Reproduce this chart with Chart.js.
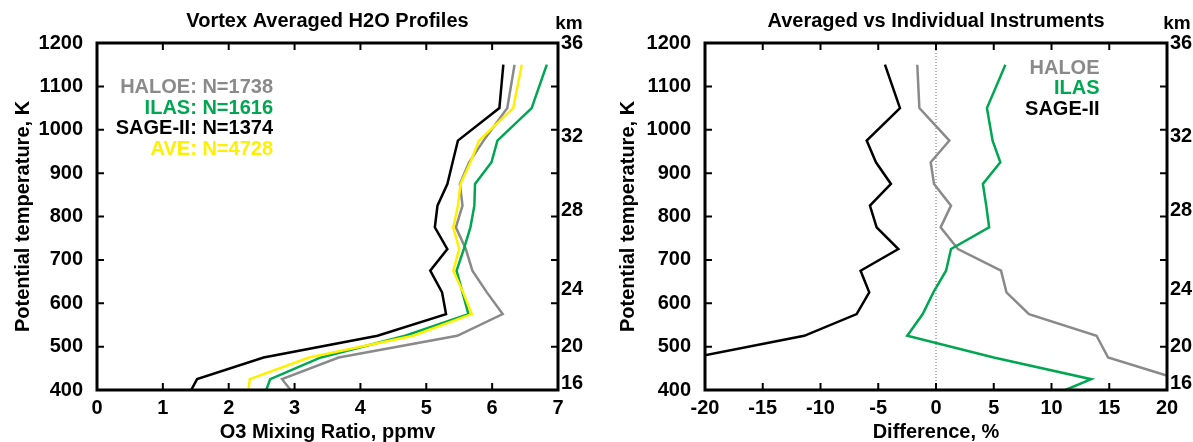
<!DOCTYPE html>
<html>
<head>
<meta charset="utf-8">
<script src="https://cdn.jsdelivr.net/npm/chart.js@4.4.1/dist/chart.umd.min.js"></script>
<style>
	body { margin: 0; background: #fff; overflow: hidden; }
	.panel { position: absolute; top: 0; height: 442px; }
	#left { left: 0; width: 600px; }
	#right { left: 600px; width: 593px; }
</style>
</head>
<body>
<div class="panel" id="left"><canvas id="profiles"></canvas></div>
<div class="panel" id="right"><canvas id="differences"></canvas></div>
<script>
'use strict'

// potential temperature levels, K
const theta = [400, 425, 475, 525, 575, 625, 675, 725, 775, 825, 875, 925, 975, 1050, 1150];

// mixing ratio, ppmv
const haloe = [2.94, 2.81, 3.67, 5.47, 6.16, 5.92, 5.70, 5.60, 5.45, 5.55, 5.51, 5.65, 5.87, 6.23, 6.34];
const ilas = [2.57, 2.63, 3.40, 4.68, 5.64, 5.55, 5.46, 5.57, 5.67, 5.73, 5.74, 5.99, 6.08, 6.60, 6.83];
const sage = [1.43, 1.52, 2.53, 4.26, 5.30, 5.24, 5.06, 5.32, 5.13, 5.17, 5.32, 5.40, 5.48, 6.11, 6.17];
const ave = [2.30, 2.32, 3.22, 4.80, 5.69, 5.56, 5.41, 5.50, 5.41, 5.48, 5.52, 5.67, 5.80, 6.32, 6.45];

// difference from average, %
const haloeDiff = [27.8, 21.0, 14.9, 13.9, 8.05, 6.1, 5.63, 1.9, 0.4, 1.3, -0.17, -0.46, 1.16, -1.44, -1.62];
const ilasDiff = [11.2, 13.44, 5.0, -2.49, -1.15, -0.23, 0.87, 1.3, 4.6, 4.35, 4.06, 5.57, 4.9, 4.41, 6.01];
const sageDiff = [-38, -34, -20.95, -11.41, -6.87, -5.78, -6.53, -3.26, -5.14, -5.72, -3.9, -5.2, -6.0, -3.12, -4.42];
const zeroLine = [0, 0];
const zeroTheta = [400, 1200];

// altitude labels on the right axis
const kmLabels = ['16', '20', '24', '28', '32', '36'];
const kmTheta = [415, 500, 632, 813, 985, 1200];

const legendLeft = ['HALOE: N=1738', 'ILAS: N=1616', 'SAGE-II: N=1374', 'AVE: N=4728'];
const legendRight = ['HALOE', 'ILAS', 'SAGE-II'];

const colors = {
	haloe: '#8a8a8a',
	ilas: '#00a651',
	sage: '#000000',
	ave: '#fff000',
	zero: '#666666',
};

const fontFamily = '"Liberation Sans", Arial, Helvetica, sans-serif';

function pts(xs, ys) {
	return xs.map((v, i) => ({ x: v, y: ys[i] }))
}

function line(label, xs, ys, color) {
	return {
		label: label,
		data: pts(xs, ys),
		showLine: true,
		borderColor: color,
		backgroundColor: color,
		borderWidth: 2.5,
		pointRadius: 0,
		tension: 0,
	}
}

// frame, inward ticks, title, legend text and km label
const framePlugin = {
	id: 'frame',
	afterDraw(chart, args, opts) {
		const ctx = chart.ctx;
		const a = chart.chartArea;
		const xs = chart.scales.x;
		const ys = chart.scales.y;
		ctx.save();
		ctx.strokeStyle = '#000';
		ctx.lineWidth = 2;
		ctx.beginPath();
		xs.ticks.forEach((t) => {
			const p = xs.getPixelForValue(t.value);
			if (p <= a.left + 2 || p >= a.right - 2) return;
			ctx.moveTo(p, a.bottom); ctx.lineTo(p, a.bottom - 7);
			ctx.moveTo(p, a.top); ctx.lineTo(p, a.top + 7);
		});
		ys.ticks.forEach((t) => {
			const p = ys.getPixelForValue(t.value);
			if (p <= a.top + 2 || p >= a.bottom - 2) return;
			ctx.moveTo(a.left, p); ctx.lineTo(a.left + 7, p);
			ctx.moveTo(a.right, p); ctx.lineTo(a.right - 7, p);
		});
		ctx.stroke();
		ctx.lineWidth = 3;
		ctx.strokeRect(a.left, a.top, a.right - a.left, a.bottom - a.top);

		ctx.fillStyle = '#000';
		ctx.textBaseline = 'middle';
		ctx.textAlign = 'center';
		ctx.font = 'bold 20px ' + fontFamily;
		ctx.fillText(opts.title, (a.left + a.right) / 2, 21);
		ctx.font = 'bold 19px ' + fontFamily;
		ctx.fillText('km', a.right + opts.kmOffset, 24);

		ctx.textAlign = 'right';
		ctx.font = 'bold 20px ' + fontFamily;
		opts.legend.forEach((txt, i) => {
			ctx.fillStyle = opts.legendColors[i];
			ctx.fillText(txt, opts.legendX, opts.legendY + i * 20.7);
		});
		ctx.restore();
	}
};

function scales(xMin, xMax, xStep, xTitle, leftW, rightW, yTitlePad) {
	const tickFont = { family: fontFamily, size: 20, weight: 'bold' };
	return {
		x: {
			type: 'linear',
			position: 'bottom',
			min: xMin,
			max: xMax,
			ticks: { stepSize: xStep, color: '#000', font: tickFont, padding: 6, maxRotation: 0, callback: (v) => String(v) },
			grid: { display: false, drawTicks: false },
			border: { display: false },
			title: { display: true, text: xTitle, color: '#000', font: { family: fontFamily, size: 20, weight: 'bold', lineHeight: 1 }, padding: { top: 0, bottom: 0 } },
			afterFit: (s) => { s.height = 52 },
		},
		y: {
			type: 'linear',
			position: 'left',
			min: 400,
			max: 1200,
			ticks: { stepSize: 100, color: '#000', font: tickFont, padding: 14, callback: (v) => String(v) },
			grid: { display: false, drawTicks: false },
			border: { display: false },
			title: { display: true, text: 'Potential temperature, K', color: '#000', font: { family: fontFamily, size: 20, weight: 'bold', lineHeight: 1 }, padding: { top: yTitlePad, bottom: 0 } },
			afterFit: (s) => { s.width = leftW },
		},
		y2: {
			type: 'linear',
			position: 'right',
			min: 400,
			max: 1200,
			afterBuildTicks: (s) => { s.ticks = kmTheta.map((v) => ({ value: v })) },
			ticks: { color: '#000', font: tickFont, padding: 3, callback: (v, i) => kmLabels[i] },
			grid: { display: false, drawTicks: false },
			border: { display: false },
			afterFit: (s) => { s.width = rightW },
		},
	}
}

function baseOptions() {
	return {
		responsive: true,
		maintainAspectRatio: false,
		animation: false,
		layout: { padding: { top: 43, left: 0, right: 0, bottom: 0 } },
		plugins: {
			legend: { display: false },
			tooltip: { enabled: false },
			title: { display: false },
		},
	}
}

let leftOpts = baseOptions();
leftOpts.scales = scales(0, 7, 1, 'O3 Mixing Ratio, ppmv', 97, 42, 13);
leftOpts.plugins.frame = {
	title: 'Vortex Averaged H2O Profiles',
	kmOffset: 11,
	legend: legendLeft,
	legendColors: [colors.haloe, colors.ilas, colors.sage, colors.ave],
	legendX: 273,
	legendY: 87.5,
};

let profiles = new Chart(document.getElementById('profiles'), {
	type: 'scatter',
	data: {
		datasets: [
			line('AVE', ave, theta, colors.ave),
			line('SAGE-II', sage, theta, colors.sage),
			line('ILAS', ilas, theta, colors.ilas),
			line('HALOE', haloe, theta, colors.haloe),
		],
	},
	options: leftOpts,
	plugins: [framePlugin],
});

let rightOpts = baseOptions();
rightOpts.scales = scales(-20, 20, 5, 'Difference, %', 105, 26, 18);
rightOpts.plugins.frame = {
	title: 'Averaged vs Individual Instruments',
	kmOffset: 10,
	legend: legendRight,
	legendColors: [colors.haloe, colors.ilas, colors.sage],
	legendX: 499.5,
	legendY: 68,
};

let zero = line('zero', zeroLine, zeroTheta, colors.zero);
zero.borderWidth = 1;
zero.borderDash = [1, 2];

let differences = new Chart(document.getElementById('differences'), {
	type: 'scatter',
	data: {
		datasets: [
			line('ILAS', ilasDiff, theta, colors.ilas),
			line('SAGE-II', sageDiff, theta, colors.sage),
			line('HALOE', haloeDiff, theta, colors.haloe),
			zero,
		],
	},
	options: rightOpts,
	plugins: [framePlugin],
});
</script>
</body>
</html>
